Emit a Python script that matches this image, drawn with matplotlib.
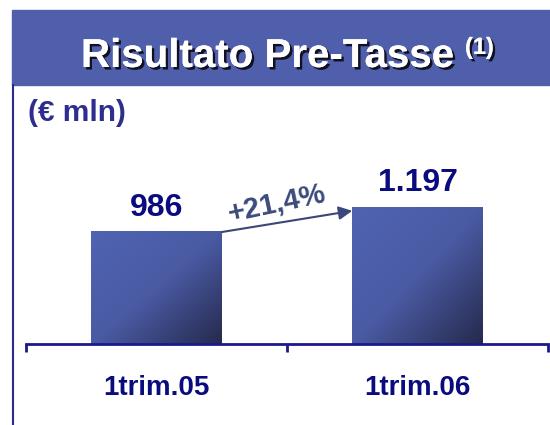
import matplotlib
matplotlib.use("Agg")
import matplotlib.pyplot as plt
import numpy as np
from matplotlib.colors import LinearSegmentedColormap
from matplotlib.patches import Rectangle
import matplotlib.patheffects as pe

plt.rcParams["font.family"] = ["Liberation Sans", "DejaVu Sans"]
plt.rcParams["font.weight"] = "bold"

# data
categories = ["1trim.05", "1trim.06"]
values = [986, 1197]
value_labels = ["986", "1.197"]
growth_label = "+21,4%"
title = "Risultato Pre-Tasse"
unit = "(€ mln)"

navy = "#0B0B80"
header_blue = "#4F5FAB"
bar_cmap = LinearSegmentedColormap.from_list("bar", ["#5063B1", "#4A5BA4", "#252A4D"])

fig = plt.figure(figsize=(5.5, 4.25), dpi=100)

# header band and left border
fig.patches.append(Rectangle((12 / 550, 1 - 85 / 425), 1 - 12 / 550, 75 / 425,
                             transform=fig.transFigure, color=header_blue, zorder=0))
fig.add_artist(plt.Line2D([12.5 / 550, 12.5 / 550], [0, 1 - 85 / 425],
                          transform=fig.transFigure, color="#2A2A8A", lw=1.5))

shadow = [pe.withSimplePatchShadow(offset=(1.8, -1.8), shadow_rgbFace="#111122", alpha=1.0), pe.Normal()]
fig.text(81 / 550, 1 - 67 / 425, title, color="white", fontsize=29, fontweight="bold",
         ha="left", va="baseline", path_effects=shadow)
fig.text(465 / 550, 1 - 54 / 425, "(1)", color="white", fontsize=17, fontweight="bold",
         ha="left", va="baseline", path_effects=shadow)
fig.text(28 / 550, 1 - 113 / 425, unit, color="#2E2E8E", fontsize=21.5, fontweight="bold",
         ha="left", va="center")

# chart axes
ax = fig.add_axes([26 / 550, 1 - 344 / 425, 522 / 550, 195 / 425])
x = np.arange(len(categories))
width = 0.5
grad = np.add.outer(np.linspace(0, 1, 100), np.linspace(0, 1, 100)) / 2
for xi, v in zip(x, values):
    rect = Rectangle((xi - width / 2, 0), width, v, facecolor="none", edgecolor="none")
    ax.add_patch(rect)
    im = ax.imshow(grad, cmap=bar_cmap, extent=(xi - width / 2, xi + width / 2, 0, v),
                   origin="upper", aspect="auto", interpolation="bilinear", zorder=2)
    im.set_clip_path(rect)

for xi, v, lab in zip(x, values, value_labels):
    ax.annotate(lab, (xi, v), xytext=(0, 6), textcoords="offset points", ha="center",
                va="bottom", color=navy, fontsize=23, fontweight="bold")

ax.annotate("", xy=(x[1] - width / 2, values[1] * 0.97), xytext=(x[0] + width / 2, values[0] * 0.99),
            arrowprops=dict(arrowstyle="-|>,head_length=0.8,head_width=0.4", color="#3A4778", lw=1.5,
                            shrinkA=0, shrinkB=0))
ax.text(0.46, (values[0] + values[1]) / 2 * 1.12, growth_label, rotation=12, ha="center", va="center",
        color="#3C4A7C", fontsize=21, fontweight="bold")

ax.set_xlim(-0.5, 1.5)
ax.set_ylim(0, 1700)
for s in ["top", "right", "left"]:
    ax.spines[s].set_visible(False)
ax.spines["bottom"].set_color("#1A1A8A")
ax.spines["bottom"].set_linewidth(2)
ax.set_yticks([])
ax.set_xticks(x)
ax.set_xticklabels(categories, color=navy, fontsize=20, fontweight="bold")
ax.tick_params(axis="x", which="major", length=0, pad=22)
ax.set_xticks([-0.5, 0.5, 1.5], minor=True)
ax.tick_params(axis="x", which="minor", length=6, width=2, color="#1A1A8A", direction="out")
ax.set_facecolor("none")

fig.savefig("out.png", dpi=100)
